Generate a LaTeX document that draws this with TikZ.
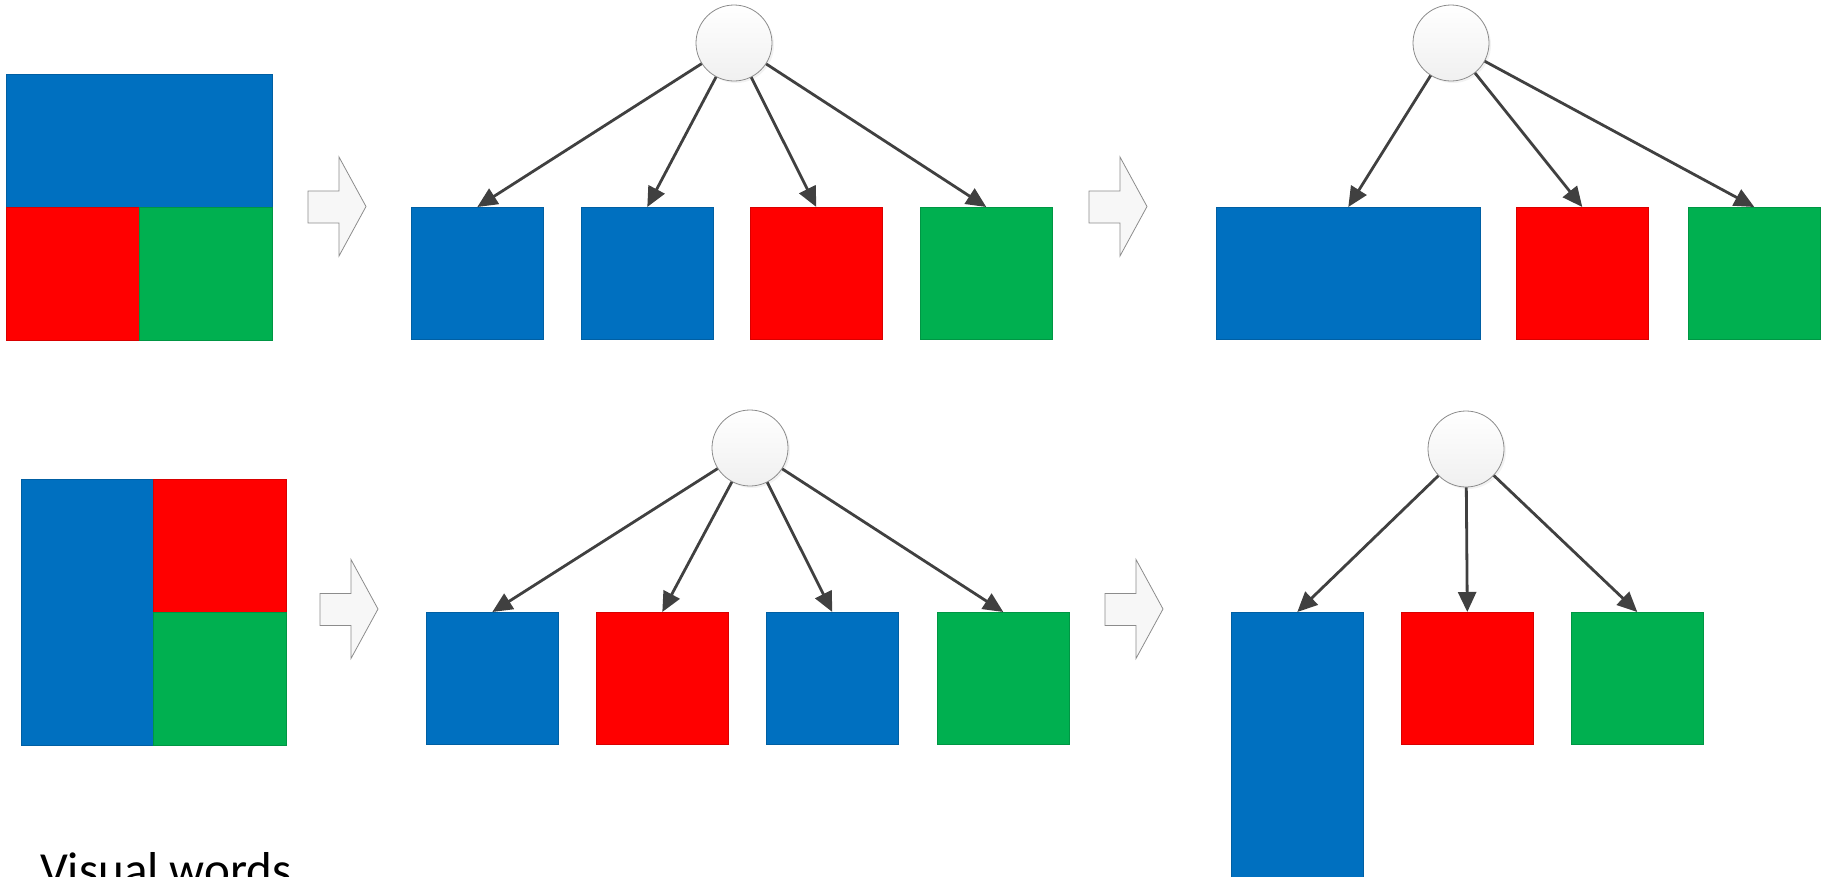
\documentclass[tikz,border=0pt]{standalone}
\usepackage{fontspec}
\setmainfont{Carlito}
\usetikzlibrary{arrows.meta,shadows}
\definecolor{cblue}{HTML}{0070C0}
\definecolor{cred}{HTML}{FF0000}
\definecolor{cgreen}{HTML}{00B050}
\definecolor{edgec}{HTML}{404040}
\definecolor{outl}{HTML}{8C8C8C}
\tikzset{
  sq/.style={rectangle, inner sep=0pt, minimum width=132pt, minimum height=132pt, anchor=north west, line width=0.6pt},
  bluebox/.style={sq, fill=cblue, draw=cblue!85!black},
  redbox/.style={sq, fill=cred, draw=cred!85!black},
  greenbox/.style={sq, fill=cgreen, draw=cgreen!85!black},
  rootnode/.style={circle, inner sep=0pt, minimum size=76pt, draw=outl, line width=0.8pt,
     top color=white, bottom color=black!6,
     drop shadow={opacity=0.10, shadow xshift=2pt, shadow yshift=-2pt}},
  edge/.style={draw=edgec, line width=2.8pt, -{Triangle[length=20pt,width=18pt]}},
  blockarr/.style={draw=outl, line width=0.8pt, fill=black!3, line join=miter}
}
\newcommand{\blkarrow}[2]{%
  \begin{scope}[shift={(#1,#2)}]
    \path[blockarr] (0,-15.5) -- (31,-15.5) -- (31,-49.5) -- (58,0) -- (31,49.5) -- (31,16.5) -- (0,16.5) -- cycle;
  \end{scope}}
\begin{document}
\begin{tikzpicture}[x=1pt,y=-1pt]
\useasboundingbox (0,0) rectangle (1829,876);

% ---------- Row 1 ----------
\node[sq, fill=cblue, draw=cblue!85!black, minimum width=266pt, minimum height=133pt] (r1blue) at (6,74) {};
\node[redbox, minimum height=133pt, minimum width=133pt] (r1red) at (6,207) {};
\node[greenbox, minimum height=133pt, minimum width=133pt] (r1green) at (139,207) {};

\blkarrow{308}{206.5}

\node[rootnode] (c1) at (734,43) {};
\node[bluebox] (a1) at (411,207) {};
\node[bluebox] (a2) at (581,207) {};
\node[redbox] (a3) at (750,207) {};
\node[greenbox] (a4) at (920,207) {};
\draw[edge] (c1) -- (a1.north);
\draw[edge] (c1) -- (a2.north);
\draw[edge] (c1) -- (a3.north);
\draw[edge] (c1) -- (a4.north);

\blkarrow{1089}{206.5}

\node[rootnode] (c2) at (1451,43) {};
\node[bluebox, minimum width=264pt] (b1) at (1216,207) {};
\node[redbox] (b2) at (1516,207) {};
\node[greenbox] (b3) at (1688,207) {};
\draw[edge] (c2) -- (b1.north);
\draw[edge] (c2) -- (b2.north);
\draw[edge] (c2) -- (b3.north);

% ---------- Row 2 ----------
\node[bluebox, minimum height=266pt] (r2blue) at (21,479) {};
\node[redbox, minimum height=133pt, minimum width=133pt] (r2red) at (153,479) {};
\node[greenbox, minimum height=133pt, minimum width=133pt] (r2green) at (153,612) {};

\blkarrow{320}{609}

\node[rootnode] (c3) at (750,448) {};
\node[bluebox] (d1) at (426,612) {};
\node[redbox] (d2) at (596,612) {};
\node[bluebox] (d3) at (766,612) {};
\node[greenbox] (d4) at (937,612) {};
\draw[edge] (c3) -- (d1.north);
\draw[edge] (c3) -- (d2.north);
\draw[edge] (c3) -- (d3.north);
\draw[edge] (c3) -- (d4.north);

\blkarrow{1105}{609}

\node[rootnode] (c4) at (1466,449) {};
\node[bluebox, minimum height=300pt] (e1) at (1231,612) {};
\node[redbox] (e2) at (1401,612) {};
\node[greenbox] (e3) at (1571,612) {};
\draw[edge] (c4) -- (e1.north);
\draw[edge] (c4) -- (e2.north);
\draw[edge] (c4) -- (e3.north);

\node[anchor=base west, inner sep=0pt, font=\fontsize{49}{58}\selectfont] (label) at (40,886) {Visual words};
\end{tikzpicture}
\end{document}
